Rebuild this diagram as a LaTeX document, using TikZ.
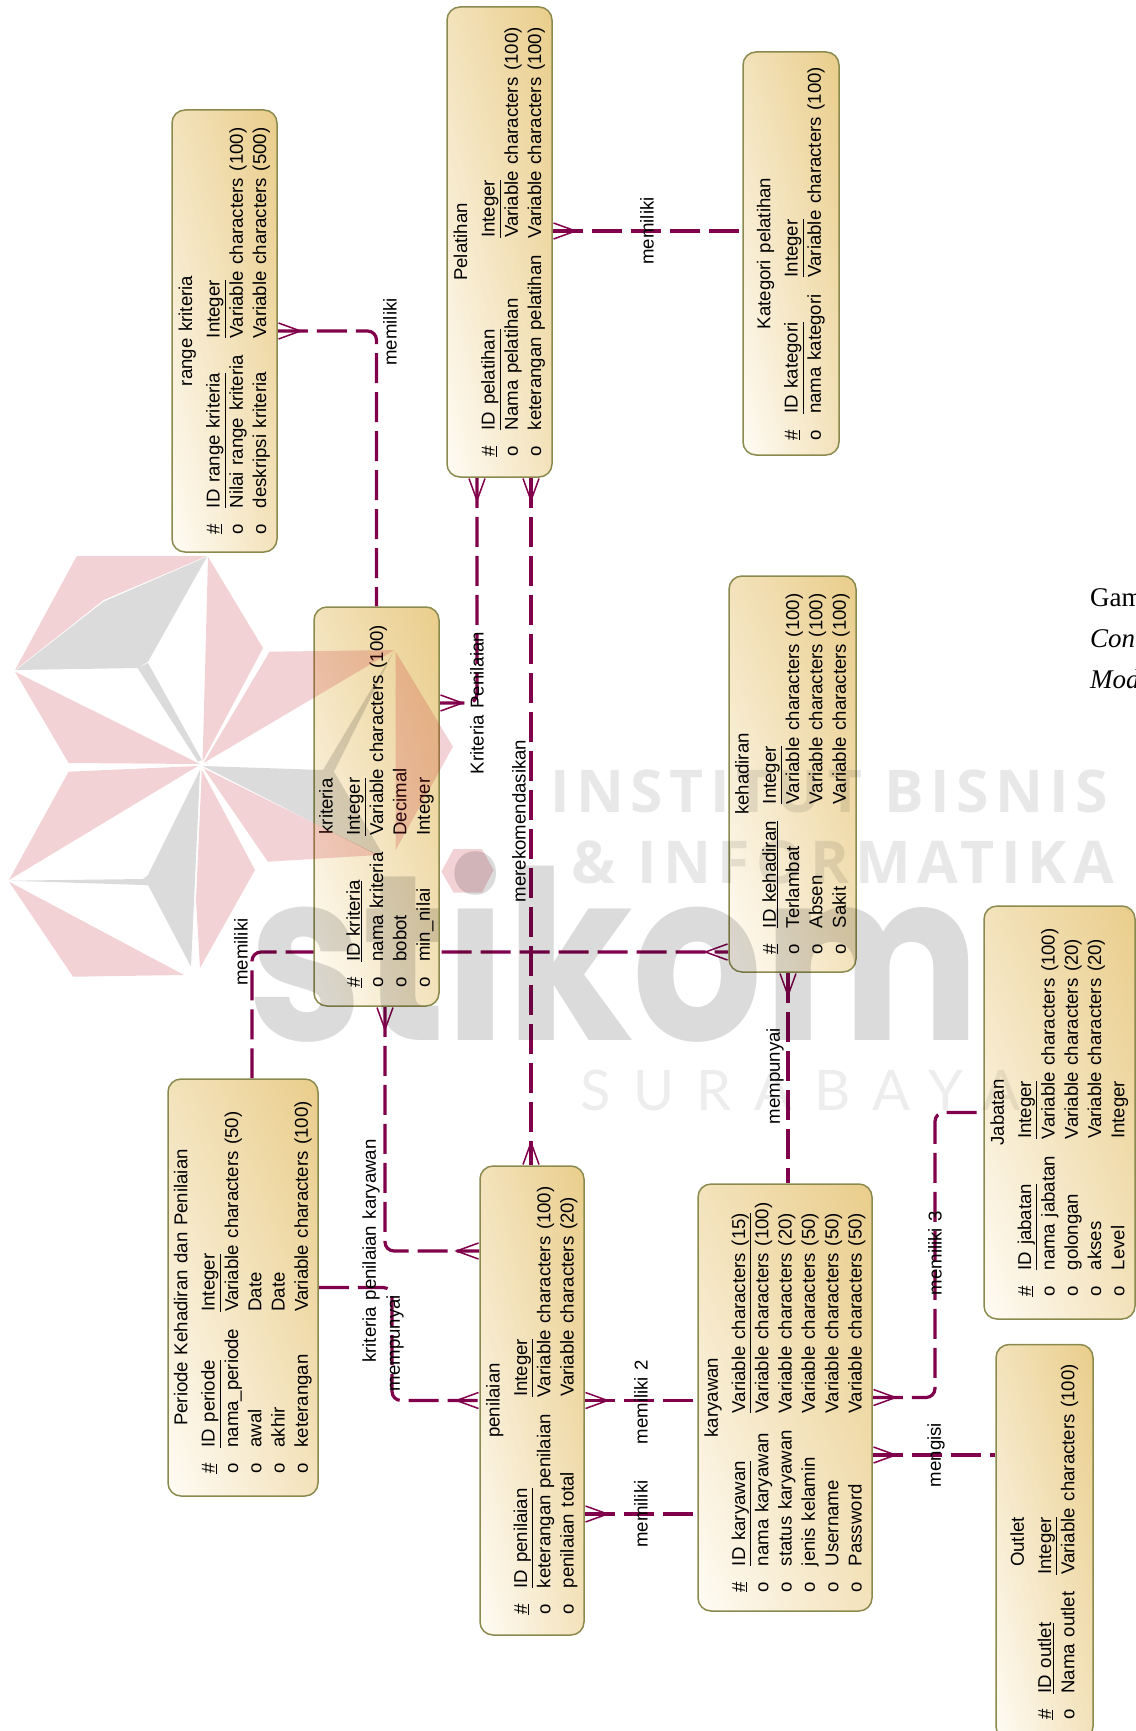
\documentclass[tikz,border=0pt]{standalone}
\usepackage{fontspec}
\usepackage{xcolor}
\setmainfont[WordSpace=1.3]{Liberation Sans}
\newfontfamily\capfont{Liberation Serif}
\newfontfamily\markfont[LetterSpace=11]{Open Sans}
\newfontfamily\thinfont[LetterSpace=40]{Lato}
\newfontfamily\logofont{Poppins}
\usetikzlibrary{arrows.meta,backgrounds,shadings}
\definecolor{relLine}{HTML}{80004B}
\definecolor{boxBorder}{HTML}{8A8A4E}
\definecolor{boxLight}{HTML}{FFFCF5}
\definecolor{boxMid}{HTML}{F3E2BB}
\definecolor{boxDark}{HTML}{E9CD8B}
\definecolor{logoRed}{HTML}{C4202E}
\tikzset{
  crow/.tip={Straight Barb[reversed,length=22pt,width=16pt,line width=1.5pt]},
  rel/.style={draw=relLine,dash pattern=on 0pt off 5000pt,rounded corners=9pt,
        preaction={draw=relLine,arrows=-,line width=3.2pt,dash pattern=on 30pt off 9pt}},
  entity/.style={rounded corners=13pt,line width=1.5pt,draw=boxBorder,
        lower left=boxLight,upper right=boxDark,upper left=boxMid,lower right=boxMid,
        inner sep=0pt,font=\fontsize{18.6}{23.3}\selectfont},
  relLabel/.style={rotate=90,inner sep=0pt,font=\fontsize{18.6}{22}\selectfont},
  capText/.style={anchor=west,inner sep=0pt,font=\fontsize{27}{30}\capfont\selectfont},
  petalRed/.style={fill=logoRed,fill opacity=.2},
  petalGrey/.style={fill=black,fill opacity=.14},
  markText/.style={text=black,text opacity=.09,inner sep=0pt,anchor=base west},
}
\begin{document}
\begin{tikzpicture}[x=1pt,y=-1pt]
\useasboundingbox (0,0) rectangle (1135,1731);
\node[entity,minimum height=442pt,minimum width=105pt] (range) at (224.5,331) {\rotatebox{90}{%
\begin{tabular}{@{}l@{\hspace{16pt}}l@{\hspace{17pt}}l@{}}
\multicolumn{3}{c}{range kriteria}\\[4pt]
\underline{\#} & \underline{ID range kriteria} & \underline{Integer}\\
o & Nilai range kriteria & Variable characters (100)\\
o & deskripsi kriteria & Variable characters (500)
\end{tabular}}};
\node[entity,minimum height=470pt,minimum width=105pt] (pelatihan) at (499.5,242) {\rotatebox{90}{%
\begin{tabular}{@{}l@{\hspace{16pt}}l@{\hspace{17pt}}l@{}}
\multicolumn{3}{c}{Pelatihan}\\[4pt]
\underline{\#} & \underline{ID pelatihan} & \underline{Integer}\\
o & Nama pelatihan & Variable characters (100)\\
o & keterangan pelatihan & Variable characters (100)
\end{tabular}}};
\node[entity,minimum height=403pt,minimum width=96pt] (kategori) at (791,253.5) {\rotatebox{90}{%
\begin{tabular}{@{}l@{\hspace{16pt}}l@{\hspace{17pt}}l@{}}
\multicolumn{3}{c}{Kategori pelatihan}\\[4pt]
\underline{\#} & \underline{ID kategori} & \underline{Integer}\\
o & nama kategori & Variable characters (100)
\end{tabular}}};
\node[entity,minimum height=399pt,minimum width=125pt] (kriteria) at (376.5,806.5) {\rotatebox{90}{%
\begin{tabular}{@{}l@{\hspace{16pt}}l@{\hspace{17pt}}l@{}}
\multicolumn{3}{c}{kriteria}\\[4pt]
\underline{\#} & \underline{ID kriteria} & \underline{Integer}\\
o & nama kriteria & Variable characters (100)\\
o & bobot & Decimal\\
o & min\_nilai & Integer
\end{tabular}}};
\node[entity,minimum height=396pt,minimum width=127pt] (kehadiran) at (792.5,774) {\rotatebox{90}{%
\begin{tabular}{@{}l@{\hspace{16pt}}l@{\hspace{17pt}}l@{}}
\multicolumn{3}{c}{kehadiran}\\[4pt]
\underline{\#} & \underline{ID kehadiran} & \underline{Integer}\\
o & Terlambat & Variable characters (100)\\
o & Absen & Variable characters (100)\\
o & Sakit & Variable characters (100)
\end{tabular}}};
\node[entity,minimum height=413pt,minimum width=151pt] (jabatan) at (1059.5,1112.5) {\rotatebox{90}{%
\begin{tabular}{@{}l@{\hspace{16pt}}l@{\hspace{17pt}}l@{}}
\multicolumn{3}{c}{Jabatan}\\[4pt]
\underline{\#} & \underline{ID jabatan} & \underline{Integer}\\
o & nama jabatan & Variable characters (100)\\
o & golongan & Variable characters (20)\\
o & akses & Variable characters (20)\\
o & Level & Integer
\end{tabular}}};
\node[entity,minimum height=417pt,minimum width=150pt] (periode) at (243,1287.5) {\rotatebox{90}{%
\begin{tabular}{@{}l@{\hspace{16pt}}l@{\hspace{17pt}}l@{}}
\multicolumn{3}{c}{Periode Kehadiran dan Penilaian}\\[4pt]
\underline{\#} & \underline{ID periode} & \underline{Integer}\\
o & nama\_periode & Variable characters (50)\\
o & awal & Date\\
o & akhir & Date\\
o & keterangan & Variable characters (100)
\end{tabular}}};
\node[entity,minimum height=469pt,minimum width=104pt] (penilaian) at (532,1400.5) {\rotatebox{90}{%
\begin{tabular}{@{}l@{\hspace{16pt}}l@{\hspace{17pt}}l@{}}
\multicolumn{3}{c}{penilaian}\\[4pt]
\underline{\#} & \underline{ID penilaian} & \underline{Integer}\\
o & keterangan penilaian & Variable characters (100)\\
o & penilaian total & Variable characters (20)
\end{tabular}}};
\node[entity,minimum height=427pt,minimum width=174pt] (karyawan) at (785,1397.5) {\rotatebox{90}{%
\begin{tabular}{@{}l@{\hspace{16pt}}l@{\hspace{17pt}}l@{}}
\multicolumn{3}{c}{karyawan}\\[4pt]
\underline{\#} & \underline{ID karyawan} & \underline{Variable characters (15)}\\
o & nama karyawan & Variable characters (100)\\
o & status karyawan & Variable characters (20)\\
o & jenis kelamin & Variable characters (50)\\
o & Username & Variable characters (50)\\
o & Password & Variable characters (50)
\end{tabular}}};
\node[entity,minimum height=395pt,minimum width=97pt] (outlet) at (1044.5,1542) {\rotatebox{90}{%
\begin{tabular}{@{}l@{\hspace{16pt}}l@{\hspace{17pt}}l@{}}
\multicolumn{3}{c}{Outlet}\\[4pt]
\underline{\#} & \underline{ID outlet} & \underline{Integer}\\
o & Nama outlet & Variable characters (100)
\end{tabular}}};
\begin{scope}[on background layer]
\draw[rel,{crow}-] (range.east) -| (kriteria.north);
\draw[rel,{crow}-] (pelatihan.east |- 0,231) -- (kategori.west |- 0,231);
\draw[rel,{crow}-{crow}] (pelatihan.south -| 477,0) |- (kriteria.east |- 0,703);
\draw[rel,{crow}-{crow}] (pelatihan.south -| 531,0) -- (penilaian.north -| 531,0);
\draw[rel,-{crow}] (periode.north -| 252,0) |- (kehadiran.west |- 0,952);
\draw[rel,{crow}-{crow}] (kriteria.south -| 385,0) |- (penilaian.west |- 0,1251);
\draw[rel,{crow}-] (kehadiran.south -| 788,0) -- (karyawan.north -| 788,0);
\draw[rel,-{crow}] (periode.east) -| (392,1344) |- (penilaian.west);
\draw[rel,{crow}-] (penilaian.east) -- (karyawan.west |- penilaian.east);
\draw[rel,{crow}-] (penilaian.east |- 0,1514) -- (karyawan.west |- 0,1514);
\draw[rel,{crow}-] (karyawan.east) -| (935,1250) |- (jabatan.west);
\draw[rel,{crow}-] (karyawan.east |- 0,1455) -- (outlet.west |- 0,1455);
\end{scope}
\node[relLabel] (l1) at (390,332) {memiliki};
\node[relLabel] (l2) at (647,231) {memiliki};
\node[relLabel] (l3) at (477,703) {Kriteria Penilaian};
\node[relLabel] (l4) at (519,821) {merekomendasikan};
\node[relLabel] (l5) at (241,952) {memiliki};
\node[relLabel] (l6) at (371,1251) {kriteria penilaian karyawan};
\node[relLabel] (l7) at (775,1076) {mempunyai};
\node[relLabel] (l8) at (395,1343) {mempunyai};
\node[relLabel] (l9) at (641,1402) {memiliki 2};
\node[relLabel] (l10) at (641,1514) {memiliki};
\node[relLabel] (l11) at (935,1253) {memiliki 3};
\node[relLabel] (l12) at (936,1455) {mengisi};
\node[capText] (c1) at (1090,598) {Gam};
\node[capText] (c2) at (1090,639) {\itshape Con};
\node[capText] (c3) at (1090,679) {\itshape Mod};
\fill[petalRed] (76.8,556) -- (207,556) -- (103.6,600) -- (15,670) -- cycle;
\fill[petalGrey] (207,556.7) -- (148,661.7) -- (137.5,668) -- (16,670) -- (103.6,601.7) -- cycle;
\fill[petalRed] (15,671.7) -- (200,764) -- (68.6,763) -- cycle;
\fill[petalRed] (208,556.7) -- (263,648) -- (202.5,761.7) -- (205,673) -- cycle;
\fill[petalGrey] (137.5,668) -- (148,663) -- (201.8,760) -- (198,761.7) -- cycle;
\fill[petalRed] (269.6,651.7) -- (394.6,650) -- (203.6,763) -- cycle;
\fill[petalRed] (395.7,651.7) -- (452.9,746.7) -- (395.7,850) -- cycle;
\fill[petalGrey] (202.9,766) -- (323,770) -- (393.6,651.7) -- (334,771.7) -- (382,853) -- (376.8,855) -- cycle;
\fill[petalRed] (203.6,768.3) -- (378.6,855) -- (267.9,861.7) -- cycle;
\fill[petalRed] (453.6,849) -- (482,849) -- (493.6,870) -- (482,892.7) -- (453.6,892.7) -- (441.4,871.7) -- cycle;
\fill[petalRed] (68.6,771.7) -- (198,766) -- (9,880) -- cycle;
\fill[petalGrey] (200,770) -- (148,875) -- (143,879) -- (10.7,880.7) -- (143,885) -- (148,885) -- (191,966.7) -- cycle;
\fill[petalRed] (201.8,770) -- (255,870) -- (200,968) -- (196,900) -- cycle;
\fill[petalRed] (9,881.7) -- (184,975) -- (73,976.7) -- cycle;
\node[markText,font=\fontsize{59}{62}\markfont\bfseries\selectfont] (w1) at (550,812) {INSTITUT BISNIS};
\node[markText,font=\fontsize{59}{62}\markfont\bfseries\selectfont] (w2) at (571,883) {\& INFORMATIKA};
\node[markText,text opacity=.07,font=\fontsize{56}{60}\thinfont\selectfont] (w3) at (580,1110) {SURABAYA};
\node[markText,text opacity=.14,font=\fontsize{205}{205}\logofont\bfseries\selectfont] (w4) at (248,1040) {\scalebox{1}[1.15]{stikom}};
\end{tikzpicture}
\end{document}
